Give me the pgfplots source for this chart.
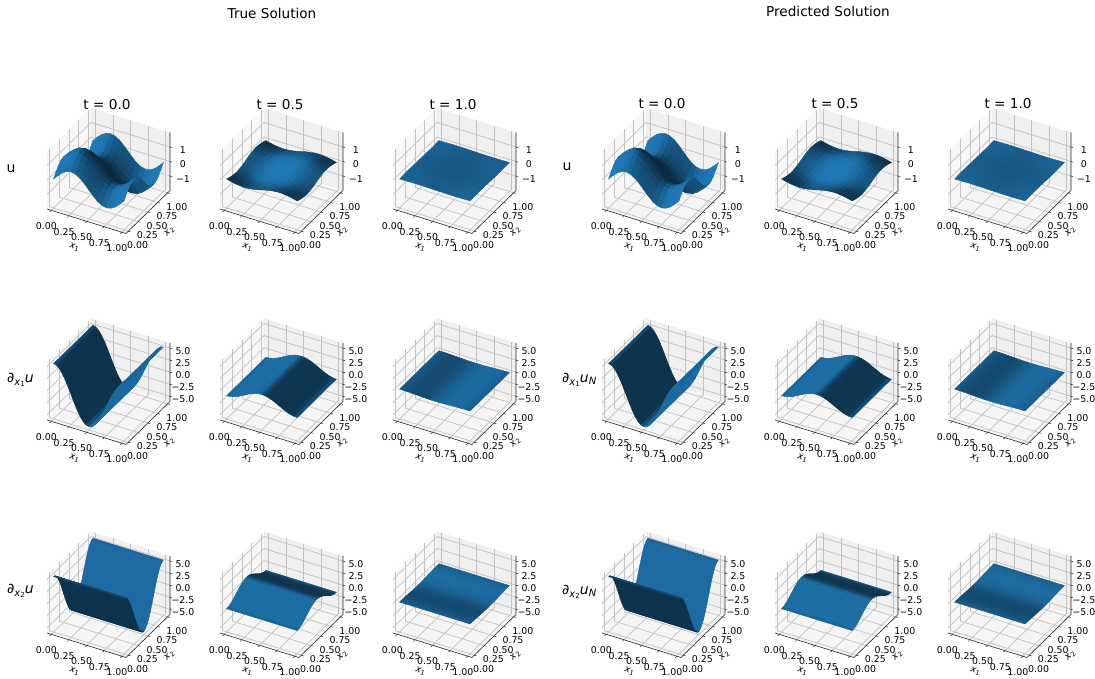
\documentclass[border=0pt]{standalone}
\usepackage{fontspec}
\setmainfont{DejaVu Sans}
\usepackage{pgfplots}
\usepackage{pgfplotstable}
\pgfplotsset{compat=1.18}
\pgfplotstableread{
x y z0 m0 z5 m5 z1 m1
0 1 0 .991 0 .420 0 .821
.0625 1 .33 .991 -.08 .425 .007 .819
.125 1 .61 .988 -.14 .441 .013 .813
.1875 1 .79 .965 -.18 .478 .018 .804
.25 1 .86 .899 -.2 .540 .019 .793
.3125 1 .79 .800 -.18 .612 .018 .782
.375 1 .61 .720 -.14 .667 .013 .773
.4375 1 .33 .677 -.08 .698 .007 .767
.5 1 0 .663 0 .707 0 .765
.5625 1 -.33 .677 .08 .698 -.007 .767
.625 1 -.61 .720 .14 .667 -.013 .773
.6875 1 -.79 .800 .18 .612 -.018 .782
.75 1 -.86 .899 .2 .540 -.019 .793
.8125 1 -.79 .965 .18 .478 -.018 .804
.875 1 -.61 .988 .14 .441 -.013 .813
.9375 1 -.33 .991 .08 .425 -.007 .819
1 1 0 .991 0 .420 0 .821
0 .9375 -.33 .991 .08 .425 -.007 .819
.0625 .9375 0 .992 0 .429 0 .817
.125 .9375 .28 .990 -.06 .446 .006 .811
.1875 .9375 .46 .970 -.11 .484 .010 .802
.25 .9375 .53 .900 -.12 .550 .012 .791
.3125 .9375 .46 .793 -.11 .624 .010 .780
.375 .9375 .28 .709 -.06 .680 .006 .771
.4375 .9375 0 .664 0 .711 0 .765
.5 .9375 -.33 .651 .08 .720 -.007 .763
.5625 .9375 -.66 .664 .15 .711 -.015 .765
.625 .9375 -.94 .709 .22 .680 -.021 .771
.6875 .9375 -1.13 .793 .26 .624 -.025 .780
.75 .9375 -1.19 .900 .28 .550 -.026 .791
.8125 .9375 -1.13 .970 .26 .484 -.025 .802
.875 .9375 -.94 .990 .22 .446 -.021 .811
.9375 .9375 -.66 .992 .15 .429 -.015 .817
1 .9375 -.33 .991 .08 .425 -.007 .819
0 .875 -.61 .988 .14 .441 -.013 .813
.0625 .875 -.28 .990 .06 .446 -.006 .811
.125 .875 0 .994 0 .465 0 .805
.1875 .875 .19 .983 -.04 .508 .004 .796
.25 .875 .25 .903 -.06 .582 .006 .785
.3125 .875 .19 .765 -.04 .665 .004 .774
.375 .875 0 .668 0 .723 0 .765
.4375 .875 -.28 .623 .06 .752 -.006 .759
.5 .875 -.61 .609 .14 .760 -.013 .757
.5625 .875 -.94 .623 .22 .752 -.021 .759
.625 .875 -1.21 .668 .28 .723 -.027 .765
.6875 .875 -1.40 .765 .33 .665 -.031 .774
.75 .875 -1.47 .903 .34 .582 -.032 .785
.8125 .875 -1.40 .983 .33 .508 -.031 .796
.875 .875 -1.21 .994 .28 .465 -.027 .805
.9375 .875 -.94 .990 .22 .446 -.021 .811
1 .875 -.61 .988 .14 .441 -.013 .813
0 .8125 -.79 .965 .18 .478 -.018 .804
.0625 .8125 -.46 .970 .11 .484 -.010 .802
.125 .8125 -.19 .983 .04 .508 -.004 .796
.1875 .8125 0 1 0 .561 0 .787
.25 .8125 .07 .910 -.02 .655 .002 .776
.3125 .8125 0 .683 0 .747 0 .765
.375 .8125 -.19 .580 .04 .799 -.004 .756
.4375 .8125 -.46 .543 .11 .821 -.010 .750
.5 .8125 -.79 .534 .18 .827 -.018 .748
.5625 .8125 -1.13 .543 .26 .821 -.025 .750
.625 .8125 -1.40 .580 .33 .799 -.031 .756
.6875 .8125 -1.59 .683 .37 .747 -.035 .765
.75 .8125 -1.65 .910 .38 .655 -.037 .776
.8125 .8125 -1.59 1 .37 .561 -.035 .787
.875 .8125 -1.40 .983 .33 .508 -.031 .796
.9375 .8125 -1.13 .970 .26 .484 -.025 .802
1 .8125 -.79 .965 .18 .478 -.018 .804
0 .75 -.86 .899 .2 .540 -.019 .793
.0625 .75 -.53 .900 .12 .550 -.012 .791
.125 .75 -.25 .903 .06 .582 -.006 .785
.1875 .75 -.07 .910 .02 .655 -.002 .776
.25 .75 0 .767 0 .767 0 .765
.3125 .75 -.07 .479 .02 .856 -.002 .754
.375 .75 -.25 .448 .06 .892 -.006 .745
.4375 .75 -.53 .440 .12 .903 -.012 .739
.5 .75 -.86 .438 .2 .905 -.019 .737
.5625 .75 -1.19 .440 .28 .903 -.026 .739
.625 .75 -1.47 .448 .34 .892 -.032 .745
.6875 .75 -1.65 .479 .38 .856 -.037 .754
.75 .75 -1.72 .767 .4 .767 -.038 .765
.8125 .75 -1.65 .910 .38 .655 -.037 .776
.875 .75 -1.47 .903 .34 .582 -.032 .785
.9375 .75 -1.19 .900 .28 .550 -.026 .791
1 .75 -.86 .899 .2 .540 -.019 .793
0 .6875 -.79 .800 .18 .612 -.018 .782
.0625 .6875 -.46 .793 .11 .624 -.010 .780
.125 .6875 -.19 .765 .04 .665 -.004 .774
.1875 .6875 0 .683 0 .747 0 .765
.25 .6875 .07 .479 -.02 .856 .002 .754
.3125 .6875 0 .365 0 .932 0 .743
.375 .6875 -.19 .362 .04 .957 -.004 .734
.4375 .6875 -.46 .367 .11 .961 -.010 .728
.5 .6875 -.79 .369 .18 .961 -.018 .726
.5625 .6875 -1.13 .367 .26 .961 -.025 .728
.625 .6875 -1.40 .362 .33 .957 -.031 .734
.6875 .6875 -1.59 .365 .37 .932 -.035 .743
.75 .6875 -1.65 .479 .38 .856 -.037 .754
.8125 .6875 -1.59 .683 .37 .747 -.035 .765
.875 .6875 -1.40 .765 .33 .665 -.031 .774
.9375 .6875 -1.13 .793 .26 .624 -.025 .780
1 .6875 -.79 .800 .18 .612 -.018 .782
0 .625 -.61 .720 .14 .667 -.013 .773
.0625 .625 -.28 .709 .06 .680 -.006 .771
.125 .625 0 .668 0 .723 0 .765
.1875 .625 .19 .580 -.04 .799 .004 .756
.25 .625 .25 .448 -.06 .892 .006 .745
.3125 .625 .19 .362 -.04 .957 .004 .734
.375 .625 0 .342 0 .980 0 .725
.4375 .625 -.28 .341 .06 .986 -.006 .719
.5 .625 -.61 .342 .14 .986 -.013 .717
.5625 .625 -.94 .341 .22 .986 -.021 .719
.625 .625 -1.21 .342 .28 .980 -.027 .725
.6875 .625 -1.40 .362 .33 .957 -.031 .734
.75 .625 -1.47 .448 .34 .892 -.032 .745
.8125 .625 -1.40 .580 .33 .799 -.031 .756
.875 .625 -1.21 .668 .28 .723 -.027 .765
.9375 .625 -.94 .709 .22 .680 -.021 .771
1 .625 -.61 .720 .14 .667 -.013 .773
0 .5625 -.33 .677 .08 .698 -.007 .767
.0625 .5625 0 .664 0 .711 0 .765
.125 .5625 .28 .623 -.06 .752 .006 .759
.1875 .5625 .46 .543 -.11 .821 .010 .750
.25 .5625 .53 .440 -.12 .903 .012 .739
.3125 .5625 .46 .367 -.11 .961 .010 .728
.375 .5625 .28 .341 -.06 .986 .006 .719
.4375 .5625 0 .336 0 .993 0 .713
.5 .5625 -.33 .336 .08 .993 -.007 .711
.5625 .5625 -.66 .336 .15 .993 -.015 .713
.625 .5625 -.94 .341 .22 .986 -.021 .719
.6875 .5625 -1.13 .367 .26 .961 -.025 .728
.75 .5625 -1.19 .440 .28 .903 -.026 .739
.8125 .5625 -1.13 .543 .26 .821 -.025 .750
.875 .5625 -.94 .623 .22 .752 -.021 .759
.9375 .5625 -.66 .664 .15 .711 -.015 .765
1 .5625 -.33 .677 .08 .698 -.007 .767
0 .5 0 .663 0 .707 0 .765
.0625 .5 .33 .651 -.08 .720 .007 .763
.125 .5 .61 .609 -.14 .760 .013 .757
.1875 .5 .79 .534 -.18 .827 .018 .748
.25 .5 .86 .438 -.2 .905 .019 .737
.3125 .5 .79 .369 -.18 .961 .018 .726
.375 .5 .61 .342 -.14 .986 .013 .717
.4375 .5 .33 .336 -.08 .993 .007 .711
.5 .5 0 .335 0 .995 0 .709
.5625 .5 -.33 .336 .08 .993 -.007 .711
.625 .5 -.61 .342 .14 .986 -.013 .717
.6875 .5 -.79 .369 .18 .961 -.018 .726
.75 .5 -.86 .438 .2 .905 -.019 .737
.8125 .5 -.79 .534 .18 .827 -.018 .748
.875 .5 -.61 .609 .14 .760 -.013 .757
.9375 .5 -.33 .651 .08 .720 -.007 .763
1 .5 0 .663 0 .707 0 .765
0 .4375 .33 .677 -.08 .698 .007 .767
.0625 .4375 .66 .664 -.15 .711 .015 .765
.125 .4375 .94 .623 -.22 .752 .021 .759
.1875 .4375 1.13 .543 -.26 .821 .025 .750
.25 .4375 1.19 .440 -.28 .903 .026 .739
.3125 .4375 1.13 .367 -.26 .961 .025 .728
.375 .4375 .94 .341 -.22 .986 .021 .719
.4375 .4375 .66 .336 -.15 .993 .015 .713
.5 .4375 .33 .336 -.08 .993 .007 .711
.5625 .4375 0 .336 0 .993 0 .713
.625 .4375 -.28 .341 .06 .986 -.006 .719
.6875 .4375 -.46 .367 .11 .961 -.010 .728
.75 .4375 -.53 .440 .12 .903 -.012 .739
.8125 .4375 -.46 .543 .11 .821 -.010 .750
.875 .4375 -.28 .623 .06 .752 -.006 .759
.9375 .4375 0 .664 0 .711 0 .765
1 .4375 .33 .677 -.08 .698 .007 .767
0 .375 .61 .720 -.14 .667 .013 .773
.0625 .375 .94 .709 -.22 .680 .021 .771
.125 .375 1.21 .668 -.28 .723 .027 .765
.1875 .375 1.40 .580 -.33 .799 .031 .756
.25 .375 1.47 .448 -.34 .892 .032 .745
.3125 .375 1.40 .362 -.33 .957 .031 .734
.375 .375 1.21 .342 -.28 .980 .027 .725
.4375 .375 .94 .341 -.22 .986 .021 .719
.5 .375 .61 .342 -.14 .986 .013 .717
.5625 .375 .28 .341 -.06 .986 .006 .719
.625 .375 0 .342 0 .980 0 .725
.6875 .375 -.19 .362 .04 .957 -.004 .734
.75 .375 -.25 .448 .06 .892 -.006 .745
.8125 .375 -.19 .580 .04 .799 -.004 .756
.875 .375 0 .668 0 .723 0 .765
.9375 .375 .28 .709 -.06 .680 .006 .771
1 .375 .61 .720 -.14 .667 .013 .773
0 .3125 .79 .800 -.18 .612 .018 .782
.0625 .3125 1.13 .793 -.26 .624 .025 .780
.125 .3125 1.40 .765 -.33 .665 .031 .774
.1875 .3125 1.59 .683 -.37 .747 .035 .765
.25 .3125 1.65 .479 -.38 .856 .037 .754
.3125 .3125 1.59 .365 -.37 .932 .035 .743
.375 .3125 1.40 .362 -.33 .957 .031 .734
.4375 .3125 1.13 .367 -.26 .961 .025 .728
.5 .3125 .79 .369 -.18 .961 .018 .726
.5625 .3125 .46 .367 -.11 .961 .010 .728
.625 .3125 .19 .362 -.04 .957 .004 .734
.6875 .3125 0 .365 0 .932 0 .743
.75 .3125 -.07 .479 .02 .856 -.002 .754
.8125 .3125 0 .683 0 .747 0 .765
.875 .3125 .19 .765 -.04 .665 .004 .774
.9375 .3125 .46 .793 -.11 .624 .010 .780
1 .3125 .79 .800 -.18 .612 .018 .782
0 .25 .86 .899 -.2 .540 .019 .793
.0625 .25 1.19 .900 -.28 .550 .026 .791
.125 .25 1.47 .903 -.34 .582 .032 .785
.1875 .25 1.65 .910 -.38 .655 .037 .776
.25 .25 1.72 .767 -.4 .767 .038 .765
.3125 .25 1.65 .479 -.38 .856 .037 .754
.375 .25 1.47 .448 -.34 .892 .032 .745
.4375 .25 1.19 .440 -.28 .903 .026 .739
.5 .25 .86 .438 -.2 .905 .019 .737
.5625 .25 .53 .440 -.12 .903 .012 .739
.625 .25 .25 .448 -.06 .892 .006 .745
.6875 .25 .07 .479 -.02 .856 .002 .754
.75 .25 0 .767 0 .767 0 .765
.8125 .25 .07 .910 -.02 .655 .002 .776
.875 .25 .25 .903 -.06 .582 .006 .785
.9375 .25 .53 .900 -.12 .550 .012 .791
1 .25 .86 .899 -.2 .540 .019 .793
0 .1875 .79 .965 -.18 .478 .018 .804
.0625 .1875 1.13 .970 -.26 .484 .025 .802
.125 .1875 1.40 .983 -.33 .508 .031 .796
.1875 .1875 1.59 1 -.37 .561 .035 .787
.25 .1875 1.65 .910 -.38 .655 .037 .776
.3125 .1875 1.59 .683 -.37 .747 .035 .765
.375 .1875 1.40 .580 -.33 .799 .031 .756
.4375 .1875 1.13 .543 -.26 .821 .025 .750
.5 .1875 .79 .534 -.18 .827 .018 .748
.5625 .1875 .46 .543 -.11 .821 .010 .750
.625 .1875 .19 .580 -.04 .799 .004 .756
.6875 .1875 0 .683 0 .747 0 .765
.75 .1875 -.07 .910 .02 .655 -.002 .776
.8125 .1875 0 1 0 .561 0 .787
.875 .1875 .19 .983 -.04 .508 .004 .796
.9375 .1875 .46 .970 -.11 .484 .010 .802
1 .1875 .79 .965 -.18 .478 .018 .804
0 .125 .61 .988 -.14 .441 .013 .813
.0625 .125 .94 .990 -.22 .446 .021 .811
.125 .125 1.21 .994 -.28 .465 .027 .805
.1875 .125 1.40 .983 -.33 .508 .031 .796
.25 .125 1.47 .903 -.34 .582 .032 .785
.3125 .125 1.40 .765 -.33 .665 .031 .774
.375 .125 1.21 .668 -.28 .723 .027 .765
.4375 .125 .94 .623 -.22 .752 .021 .759
.5 .125 .61 .609 -.14 .760 .013 .757
.5625 .125 .28 .623 -.06 .752 .006 .759
.625 .125 0 .668 0 .723 0 .765
.6875 .125 -.19 .765 .04 .665 -.004 .774
.75 .125 -.25 .903 .06 .582 -.006 .785
.8125 .125 -.19 .983 .04 .508 -.004 .796
.875 .125 0 .994 0 .465 0 .805
.9375 .125 .28 .990 -.06 .446 .006 .811
1 .125 .61 .988 -.14 .441 .013 .813
0 .0625 .33 .991 -.08 .425 .007 .819
.0625 .0625 .66 .992 -.15 .429 .015 .817
.125 .0625 .94 .990 -.22 .446 .021 .811
.1875 .0625 1.13 .970 -.26 .484 .025 .802
.25 .0625 1.19 .900 -.28 .550 .026 .791
.3125 .0625 1.13 .793 -.26 .624 .025 .780
.375 .0625 .94 .709 -.22 .680 .021 .771
.4375 .0625 .66 .664 -.15 .711 .015 .765
.5 .0625 .33 .651 -.08 .720 .007 .763
.5625 .0625 0 .664 0 .711 0 .765
.625 .0625 -.28 .709 .06 .680 -.006 .771
.6875 .0625 -.46 .793 .11 .624 -.010 .780
.75 .0625 -.53 .900 .12 .550 -.012 .791
.8125 .0625 -.46 .970 .11 .484 -.010 .802
.875 .0625 -.28 .990 .06 .446 -.006 .811
.9375 .0625 0 .992 0 .429 0 .817
1 .0625 .33 .991 -.08 .425 .007 .819
0 0 0 .991 0 .420 0 .821
.0625 0 .33 .991 -.08 .425 .007 .819
.125 0 .61 .988 -.14 .441 .013 .813
.1875 0 .79 .965 -.18 .478 .018 .804
.25 0 .86 .899 -.2 .540 .019 .793
.3125 0 .79 .800 -.18 .612 .018 .782
.375 0 .61 .720 -.14 .667 .013 .773
.4375 0 .33 .677 -.08 .698 .007 .767
.5 0 0 .663 0 .707 0 .765
.5625 0 -.33 .677 .08 .698 -.007 .767
.625 0 -.61 .720 .14 .667 -.013 .773
.6875 0 -.79 .800 .18 .612 -.018 .782
.75 0 -.86 .899 .2 .540 -.019 .793
.8125 0 -.79 .965 .18 .478 -.018 .804
.875 0 -.61 .988 .14 .441 -.013 .813
.9375 0 -.33 .991 .08 .425 -.007 .819
1 0 0 .991 0 .420 0 .821
}\tabU
\pgfplotstableread{
s q z0 m0 z5 m5 z1 m1
0 0 5.4 .767 -1.25 .767 .12 .767
0 1 5.4 .767 -1.25 .767 .12 .767
.0417 0 5.22 .429 -1.21 .911 .116 .72
.0417 1 5.22 .429 -1.21 .911 .116 .72
.0833 0 4.68 .423 -1.08 .905 .104 .677
.0833 1 4.68 .423 -1.08 .905 .104 .677
.125 0 3.82 .421 -.88 .9 .085 .644
.125 1 3.82 .421 -.88 .9 .085 .644
.1667 0 2.7 .42 -.63 .898 .06 .621
.1667 1 2.7 .42 -.63 .898 .06 .621
.2083 0 1.4 .42 -.32 .897 .031 .608
.2083 1 1.4 .42 -.32 .897 .031 .608
.25 0 0 .42 0 .896 0 .603
.25 1 0 .42 0 .896 0 .603
.2917 0 -1.4 .42 .32 .897 -.031 .608
.2917 1 -1.4 .42 .32 .897 -.031 .608
.3333 0 -2.7 .42 .63 .898 -.06 .621
.3333 1 -2.7 .42 .63 .898 -.06 .621
.375 0 -3.82 .421 .88 .9 -.085 .644
.375 1 -3.82 .421 .88 .9 -.085 .644
.4167 0 -4.68 .423 1.08 .905 -.104 .677
.4167 1 -4.68 .423 1.08 .905 -.104 .677
.4583 0 -5.22 .429 1.21 .911 -.116 .72
.4583 1 -5.22 .429 1.21 .911 -.116 .72
.5 0 -5.4 .767 1.25 .767 -.12 .767
.5 1 -5.4 .767 1.25 .767 -.12 .767
.5417 0 -5.22 .894 1.21 .492 -.116 .809
.5417 1 -5.22 .894 1.21 .492 -.116 .809
.5833 0 -4.68 .889 1.08 .452 -.104 .841
.5833 1 -4.68 .889 1.08 .452 -.104 .841
.625 0 -3.82 .887 .88 .441 -.085 .862
.625 1 -3.82 .887 .88 .441 -.085 .862
.6667 0 -2.7 .886 .63 .436 -.06 .875
.6667 1 -2.7 .886 .63 .436 -.06 .875
.7083 0 -1.4 .886 .32 .434 -.031 .881
.7083 1 -1.4 .886 .32 .434 -.031 .881
.75 0 0 .885 0 .433 0 .883
.75 1 0 .885 0 .433 0 .883
.7917 0 1.4 .886 -.32 .434 .031 .881
.7917 1 1.4 .886 -.32 .434 .031 .881
.8333 0 2.7 .886 -.63 .436 .06 .875
.8333 1 2.7 .886 -.63 .436 .06 .875
.875 0 3.82 .887 -.88 .441 .085 .862
.875 1 3.82 .887 -.88 .441 .085 .862
.9167 0 4.68 .889 -1.08 .452 .104 .841
.9167 1 4.68 .889 -1.08 .452 .104 .841
.9583 0 5.22 .894 -1.21 .492 .116 .809
.9583 1 5.22 .894 -1.21 .492 .116 .809
1 0 5.4 .767 -1.25 .767 .12 .767
1 1 5.4 .767 -1.25 .767 .12 .767
}\tabP
\definecolor{gridc}{gray}{0.76}
\pgfplotsset{
 panel/.style={
  x={(70.5pt,-21.9pt)}, y={(39.3pt,38.4pt)},
  xmin=-.06,xmax=1.06,ymin=-.06,ymax=1.06,
  set layers=standard,
  anchor=south west,
  grid=major, grid style={gridc,line width=0.7pt},
  axis line style={draw=none},
  xtick={0,.25,.5,.75,1}, ytick={0,.25,.5,.75,1},
  xticklabels={0.00,0.25,0.50,0.75,1.00},
  yticklabels={0.00,0.25,0.50,0.75,1.00},
  major tick length=0pt,
  ztick pos=right,
  zticklabel pos=right,
  tick label style={font=\fontsize{9.4}{10}\selectfont,inner sep=0pt},
  xticklabel style={anchor=center,xshift=-4.8pt,yshift=-16.2pt},
  yticklabel style={anchor=center,xshift=9.2pt,yshift=-13.9pt},
  zticklabel style={anchor=center,xshift=13pt,yshift=-3pt},
  colormap={cz}{rgb255=(0,0,0) rgb255=(31,119,180)},
  point meta min=0, point meta max=1,
  clip=false,
 },
 zU/.style={z={(0pt,14.5pt)},zmin=-2,zmax=2,ztick={-1,0,1},zticklabels={−1,0,1}},
 zG/.style={z={(0pt,4.83pt)},zmin=-6.07,zmax=6.07,ztick={-5,-2.5,0,2.5,5},zticklabels={−5.0,−2.5,0.0,2.5,5.0}},
 srf/.style={surf,shader=flat,point meta=explicit},
}
\newcommand{\frameit}[2]{%
 \pgfplotsextra{%
 \begin{pgfonlayer}{axis background}%
 \fill[black!3] (axis cs:-.06,-.06,-#1)--(axis cs:-.06,1.06,-#1)--(axis cs:-.06,1.06,#1)--(axis cs:-.06,-.06,#1)--cycle;
 \fill[black!6] (axis cs:-.06,1.06,-#1)--(axis cs:1.06,1.06,-#1)--(axis cs:1.06,1.06,#1)--(axis cs:-.06,1.06,#1)--cycle;
 \fill[black!4] (axis cs:-.06,-.06,-#1)--(axis cs:1.06,-.06,-#1)--(axis cs:1.06,1.06,-#1)--(axis cs:-.06,1.06,-#1)--cycle;
 \end{pgfonlayer}%
 \draw[black!85,line width=0.6pt] (axis cs:-.06,-.06,-#1)--(axis cs:1.06,-.06,-#1)--(axis cs:1.06,1.06,-#1)--(axis cs:1.06,1.06,#1);
 \foreach \t in {0,.25,.5,.75,1} {
  \draw[black!85,line width=0.5pt] (axis cs:\t,-.06,-#1)--++(-1.6pt,-1.6pt);
  \draw[black!85,line width=0.5pt] (axis cs:1.06,\t,-#1)--++(2.2pt,-0.7pt);
 }
 \foreach \t in {#2} {
  \draw[black!85,line width=0.5pt] (axis cs:1.06,1.06,\t)--++(2.2pt,-0.7pt);
 }
 }}
\newcommand{\axlabels}[2]{%
 \node[rotate=-18,font=\fontsize{9.4}{10}\selectfont] at (#1pt+27.3pt,678pt-#2pt-38.3pt) {\textit{x}\raisebox{-2pt}{\fontsize{6.6}{7}\selectfont 1}};
 \node[rotate=43,font=\fontsize{9.4}{10}\selectfont] at (#1pt+122.3pt,678pt-#2pt-22.7pt) {\textit{x}\raisebox{-2pt}{\fontsize{6.6}{7}\selectfont 2}};}
\newcommand{\pU}[5]{%
 \begin{axis}[panel,zU,at={(#1pt,678pt-#2pt-24.5pt)}]
 \frameit{2}{-1,0,1}
 \addplot3[srf,mesh/rows=17,mesh/cols=17] table[x=x,y=y,z=z#3,meta=m#3]{\tabU};
 \end{axis}\axlabels{#1}{#2}
 \node[font=\fontsize{13.6}{15}\selectfont] at (#1pt+60pt,678pt-#4pt) {t = #5};}
\newcommand{\pA}[3]{%
 \begin{axis}[panel,zG,at={(#1pt,678pt-#2pt-24.5pt)}]
 \frameit{6.07}{-5,-2.5,0,2.5,5}
 \addplot3[srf,mesh/ordering=y varies,mesh/rows=2,mesh/cols=25] table[x=s,y=q,z=z#3,meta=m#3]{\tabP};
 \end{axis}\axlabels{#1}{#2}}
\newcommand{\pB}[3]{%
 \begin{axis}[panel,zG,at={(#1pt,678pt-#2pt-24.5pt)}]
 \frameit{6.07}{-5,-2.5,0,2.5,5}
 \addplot3[srf,mesh/ordering=x varies,mesh/rows=25,mesh/cols=2] table[x=q,y=s,z=z#3,meta=m#3]{\tabP};
 \end{axis}\axlabels{#1}{#2}}
\newcommand{\dlab}[2]{{\fontsize{14}{16}\selectfont\textit{∂}\raisebox{-3pt}{\fontsize{10}{11}\selectfont\textit{x}\raisebox{-1.5pt}{\fontsize{7}{8}\selectfont #1}}\textit{u}\raisebox{-2pt}{\fontsize{10}{11}\selectfont\textit{#2}}}}
\begin{document}
\begin{tikzpicture}
\path (0,0) rectangle (1095pt,678pt);
\pU{47}{209}{0}{105}{0.0}
\pU{220}{209}{5}{105}{0.5}
\pU{393}{209}{1}{105}{1.0}
\pU{602}{209}{0}{104}{0.0}
\pU{775}{209}{5}{104}{0.5}
\pU{948}{209}{1}{104}{1.0}
\pA{47}{420}{0}
\pA{220}{420}{5}
\pA{393}{420}{1}
\pA{602}{420}{0}
\pA{775}{420}{5}
\pA{948}{420}{1}
\pB{47}{633}{0}
\pB{220}{633}{5}
\pB{393}{633}{1}
\pB{602}{633}{0}
\pB{775}{633}{5}
\pB{948}{633}{1}
\node[font=\fontsize{13.6}{15}\selectfont] at (272pt,678pt-13pt) {True Solution};
\node[font=\fontsize{13.6}{15}\selectfont] at (828pt,678pt-11pt) {Predicted Solution};
\node[font=\fontsize{14}{16}\selectfont] at (11pt,678pt-169pt) {u};
\node[font=\fontsize{14}{16}\selectfont] at (567pt,678pt-167pt) {u};
\node[anchor=west,inner sep=0pt] at (7pt,678pt-380pt) {\dlab{1}{}};
\node[anchor=west,inner sep=0pt] at (7pt,678pt-591pt) {\dlab{2}{}};
\node[anchor=west,inner sep=0pt] at (562pt,678pt-380pt) {\dlab{1}{N}};
\node[anchor=west,inner sep=0pt] at (562pt,678pt-592pt) {\dlab{2}{N}};
\pgfresetboundingbox
\path[use as bounding box] (0,0) rectangle (1095pt,678pt);
\end{tikzpicture}
\end{document}
